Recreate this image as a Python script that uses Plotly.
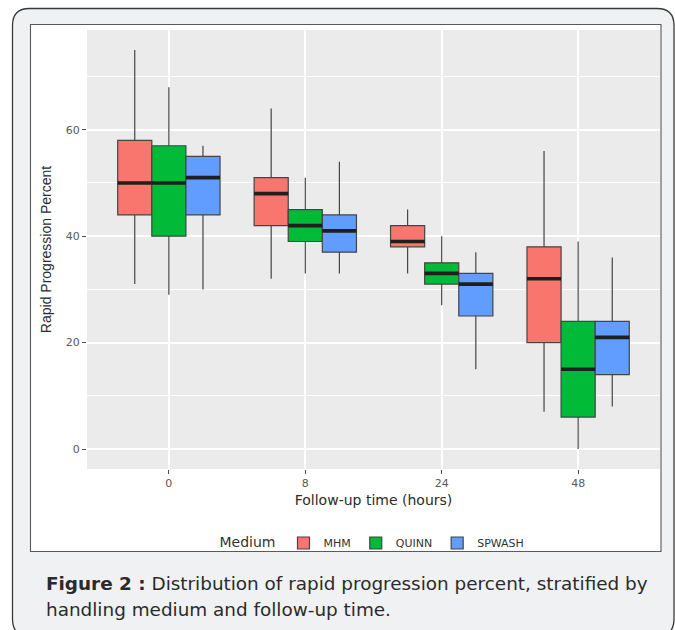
import plotly.graph_objects as go

# ---------------- data ----------------
categories = ["0", "8", "24", "48"]
media = ["MHM", "QUINN", "SPWASH"]

mhm_low = [31, 32, 33, 7]
mhm_q1 = [44, 42, 38, 20]
mhm_med = [50, 48, 39, 32]
mhm_q3 = [58, 51, 42, 38]
mhm_high = [75, 64, 45, 56]

quinn_low = [29, 33, 27, 0]
quinn_q1 = [40, 39, 31, 6]
quinn_med = [50, 42, 33, 15]
quinn_q3 = [57, 45, 35, 24]
quinn_high = [68, 51, 40, 39]

spwash_low = [30, 33, 15, 8]
spwash_q1 = [44, 37, 25, 14]
spwash_med = [51, 41, 31, 21]
spwash_q3 = [55, 44, 33, 24]
spwash_high = [57, 54, 37, 36]

colors = ["#F8766D", "#00BA38", "#619CFF"]

series = [
    (mhm_low, mhm_q1, mhm_med, mhm_q3, mhm_high),
    (quinn_low, quinn_q1, quinn_med, quinn_q3, quinn_high),
    (spwash_low, spwash_q1, spwash_med, spwash_q3, spwash_high),
]

W, H = 675, 630
ML, MR, MT, MB = 87, 15, 30, 161
PW = W - ML - MR
PH = H - MT - MB


def px_x(px):
    return (px - ML) / PW


def px_y(py):
    return (H - MB - py) / PH


FONT = "DejaVu Sans, sans-serif"
FONT_ARIAL = "Liberation Sans, Arial, sans-serif"

fig = go.Figure()

for name, col, (lo, q1, med, q3, hi) in zip(media, colors, series):
    fig.add_trace(go.Box(
        name=name, x=categories, q1=q1, median=med, q3=q3,
        lowerfence=lo, upperfence=hi,
        fillcolor=col, line=dict(color="#454545", width=1.2),
        whiskerwidth=0, offsetgroup=name, alignmentgroup="a",
        boxpoints=False, hoverinfo="skip",
    ))

# thick median bars (ggplot style), overlaid in the same dodge slot
for name, (lo, q1, med, q3, hi) in zip(media, series):
    fig.add_trace(go.Box(
        name=name, x=categories, q1=med, median=med, q3=med,
        lowerfence=med, upperfence=med,
        fillcolor="rgba(0,0,0,0)", line=dict(color="#1f1f1f", width=3.7),
        whiskerwidth=0, offsetgroup=name, alignmentgroup="a",
        boxpoints=False, showlegend=False, hoverinfo="skip",
    ))


def rounded_path(x0, y0, x1, y1, r):
    pts = [
        ("M", [(x0 + r, y0)]),
        ("L", [(x1 - r, y0)]),
        ("Q", [(x1, y0), (x1, y0 + r)]),
        ("L", [(x1, y1 - r)]),
        ("Q", [(x1, y1), (x1 - r, y1)]),
        ("L", [(x0 + r, y1)]),
        ("Q", [(x0, y1), (x0, y1 - r)]),
        ("L", [(x0, y0 + r)]),
        ("Q", [(x0, y0), (x0 + r, y0)]),
    ]
    s = ""
    for cmd, ps in pts:
        s += cmd + " ".join(f"{px_x(a):.5f},{px_y(b):.5f}" for a, b in ps)
    return s + "Z"


shapes = [
    dict(type="path", xref="paper", yref="paper", layer="below",
         path=rounded_path(12.5, 8.5, 674, 636, 17),
         fillcolor="#F0F1F3", line=dict(color="#3a3a3a", width=1.3)),
    dict(type="rect", xref="paper", yref="paper", layer="below",
         x0=px_x(30.5), x1=px_x(661), y0=px_y(24.5), y1=px_y(551.5),
         fillcolor="white", line=dict(color="#5a5a5a", width=1.1)),
    dict(type="rect", xref="paper", yref="paper", layer="below",
         x0=0, x1=1, y0=0, y1=1, fillcolor="#EBEBEB", line=dict(width=0)),
]

annotations = [
    dict(xref="paper", yref="paper", x=px_x(44), y=px_y(583),
         xanchor="left", yanchor="middle", showarrow=False,
         text="<b>Figure 2 :</b> Distribution of rapid progression percent, stratified by",
         font=dict(family=FONT, size=18.4, color="#2b2b2b")),
    dict(xref="paper", yref="paper", x=px_x(44), y=px_y(609),
         xanchor="left", yanchor="middle", showarrow=False,
         text="handling medium and follow-up time.",
         font=dict(family=FONT, size=18.4, color="#2b2b2b")),
]

fig.update_layout(
    width=W, height=H,
    margin=dict(l=ML, r=MR, t=MT, b=MB, autoexpand=False),
    paper_bgcolor="white", plot_bgcolor="rgba(0,0,0,0)",
    font=dict(family=FONT, color="#333333"),
    boxmode="group", boxgap=0.25, boxgroupgap=0,
    shapes=shapes, annotations=annotations,
    legend=dict(
        orientation="h", x=0.5, xanchor="center", y=px_y(543), yanchor="middle",
        title=dict(text="Medium", font=dict(size=14, color="#333333"), side="left"),
        font=dict(size=11, color="#333333"), bgcolor="rgba(0,0,0,0)",
        tracegroupgap=0, itemwidth=30,
    ),
    xaxis=dict(
        type="category", categoryorder="array", categoryarray=categories,
        range=[-0.6, 3.6], showgrid=True, gridcolor="white", gridwidth=1.6,
        zeroline=False, showline=False, ticks="outside", ticklen=4,
        tickcolor="#4d4d4d", tickwidth=1,
        tickfont=dict(size=11, color="#5a5a5a"),
        title=dict(text="Follow-up time (hours)", font=dict(size=14, color="#2b2b2b"),
                   standoff=5),
        automargin=False, fixedrange=True,
    ),
    yaxis=dict(
        range=[-3.75, 78.75], tickvals=[0, 20, 40, 60],
        showgrid=True, gridcolor="white", gridwidth=1.6,
        minor=dict(tickvals=[10, 30, 50, 70], showgrid=True,
                   gridcolor="white", gridwidth=0.8, ticks=""),
        zeroline=False, showline=False, ticks="outside", ticklen=4,
        tickcolor="#4d4d4d", tickwidth=1,
        tickfont=dict(size=11, color="#5a5a5a"),
        title=dict(text="Rapid Progression Percent",
                   font=dict(family=FONT_ARIAL, size=14, color="#2b2b2b"),
                   standoff=10),
        automargin=False, fixedrange=True,
    ),
)

fig.write_html("out.html", config={"displayModeBar": False},
               post_script="document.body.style.margin='0';")
